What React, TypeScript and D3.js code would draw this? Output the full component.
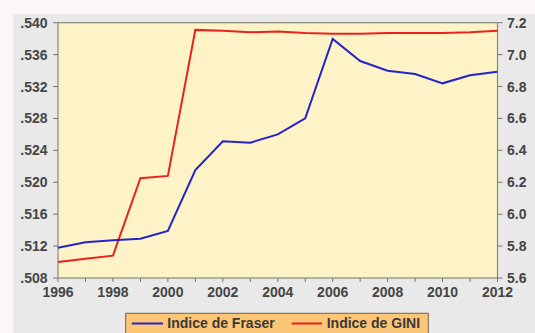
import React from "react";
import * as d3 from "d3";

const years = [1996,1997,1998,1999,2000,2001,2002,2003,2004,2005,2006,2007,2008,2009,2010,2011,2012];
const gini = [0.5100,0.5104,0.5108,0.5205,0.5208,0.5391,0.5390,0.5388,0.5389,0.5387,0.5386,0.5386,0.5387,0.5387,0.5387,0.5388,0.5390];
const fraser = [5.79,5.824,5.836,5.846,5.895,6.277,6.457,6.448,6.50,6.60,7.098,6.96,6.899,6.878,6.82,6.87,6.893];
const leftTicks = [0.508,0.512,0.516,0.520,0.524,0.528,0.532,0.536,0.540];
const rightTicks = [5.6,5.8,6.0,6.2,6.4,6.6,6.8,7.0,7.2];
const xTicks = [1996,1998,2000,2002,2004,2006,2008,2010,2012];
const seriesNames = ["Indice de Fraser","Indice de GINI"];

export default function App() {
  const W = 535, H = 333;
  const L = 58, R = 497.5, T = 22.7, B = 278;
  const x = d3.scaleLinear().domain([1996, 2012]).range([L, R]);
  const yL = d3.scaleLinear().domain([0.508, 0.540]).range([B, T]);
  const yR = d3.scaleLinear().domain([5.6, 7.2]).range([B, T]);
  const lineG = d3.line<number>().x((_, i) => x(years[i])).y(d => yL(d));
  const lineF = d3.line<number>().x((_, i) => x(years[i])).y(d => yR(d));
  const font = "'Liberation Sans', Arial, sans-serif";
  const txt = "#454545";
  const fs = 14;
  return (
    <div style={{ position: "absolute", left: 0, top: 0 }}>
      <svg width={W} height={H} style={{ display: "block" }}>
        <rect x={0} y={0} width={W} height={H} fill="#fdf6f6" />
        <rect x={13} y={14} width={W - 13} height={H - 14} fill="#e9e9e9" />
        <rect x={L} y={T} width={R - L} height={B - T} fill="#fdf3c6" stroke="#8a8a80" strokeWidth={1.2} />
        {leftTicks.map(t => (
          <g key={"l" + t}>
            <line x1={L - 5} x2={L} y1={yL(t)} y2={yL(t)} stroke="#777" />
            <text x={47.5} y={yL(t) + 5} textAnchor="end" fontFamily={font} fontWeight="bold" fontSize={fs} fill={txt}>
              {d3.format(".3f")(t).replace(/^0/, "")}
            </text>
          </g>
        ))}
        {rightTicks.map(t => (
          <g key={"r" + t}>
            <line x1={R} x2={R + 5} y1={yR(t)} y2={yR(t)} stroke="#777" />
            <text x={507} y={yR(t) + 5} textAnchor="start" fontFamily={font} fontWeight="bold" fontSize={fs} fill={txt}>
              {d3.format(".1f")(t)}
            </text>
          </g>
        ))}
        {years.map(yv => (
          <line key={"xt" + yv} x1={x(yv)} x2={x(yv)} y1={B} y2={B + 4} stroke="#777" />
        ))}
        {xTicks.map(t => (
          <text key={"xl" + t} x={x(t)} y={297} textAnchor="middle" fontFamily={font} fontWeight="bold" fontSize={fs} fill={txt}>
            {t}
          </text>
        ))}
        <path d={lineG(gini) || ""} fill="none" stroke="#e8231c" strokeWidth={2} />
        <path d={lineF(fraser) || ""} fill="none" stroke="#2424c8" strokeWidth={2} />
        <rect x={125.7} y={313.3} width={302.6} height={24} fill="#fbc675" stroke="#6e6455" strokeWidth={1} />
        <line x1={131.7} x2={163} y1={323.5} y2={323.5} stroke="#2424c8" strokeWidth={2} />
        <text x={167.3} y={328} fontFamily={font} fontWeight="bold" fontSize={fs} fill="#3a3a3a">{seriesNames[0]}</text>
        <line x1={291.7} x2={322} y1={323.5} y2={323.5} stroke="#e8231c" strokeWidth={2} />
        <text x={326.7} y={328} fontFamily={font} fontWeight="bold" fontSize={fs} fill="#3a3a3a">{seriesNames[1]}</text>
      </svg>
    </div>
  );
}
